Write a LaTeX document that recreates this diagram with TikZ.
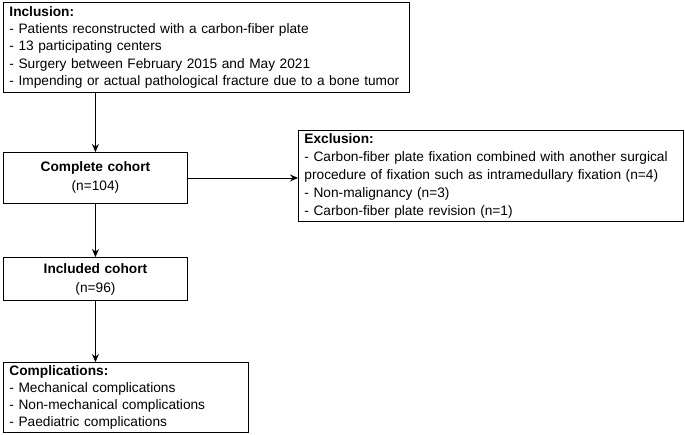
\documentclass[tikz,border=0pt]{standalone}
\usepackage{fontspec}
\setmainfont{Liberation Sans}
\usepackage{tikz}
\usetikzlibrary{positioning,arrows.meta}

\tikzset{
    box/.style={draw, line width=0.9pt, inner xsep=6pt, inner ysep=0pt,
        font=\fontsize{13.7}{17.3}\selectfont},
    listbox/.style={box, align=left, anchor=north west},
    countbox/.style={box, align=center, anchor=north west,
        text width=172pt, minimum width=184pt},
    flow/.style={-{Stealth[length=8pt,width=7pt]}, line width=0.9pt}
}

\begin{document}
\begin{tikzpicture}[x=1pt, y=1pt]
            \useasboundingbox (0,0) rectangle (685,-434);

            \node [listbox, text width=394pt, minimum height=90pt] (incl) at (3,-2)
                {\textbf{Inclusion:}\\
                 - Patients reconstructed with a carbon-fiber plate\\
                 - 13 participating centers\\
                 - Surgery between February 2015 and May 2021\\
                 - Impending or actual pathological fracture due to a bone tumor};

            \node [countbox, minimum height=51pt, font=\fontsize{13.7}{19}\selectfont] (complete) at (3,-152)
                {\textbf{Complete cohort}\\(n=104)};

            \node [listbox, text width=373pt, minimum height=91pt, font=\fontsize{13.7}{18}\selectfont] (excl) at (298,-130)
                {\textbf{Exclusion:}\\
                 - Carbon-fiber plate fixation combined with another surgical\\
                 procedure of fixation such as intramedullary fixation (n=4)\\
                 - Non-malignancy (n=3)\\
                 - Carbon-fiber plate revision (n=1)};

            \node [countbox, minimum height=43pt, font=\fontsize{13.7}{19}\selectfont] (included) at (3,-257)
                {\textbf{Included cohort}\\(n=96)};

            \node [listbox, text width=233pt, minimum height=70pt] (compl) at (3,-362)
                {\textbf{Complications:}\\
                 - Mechanical complications\\
                 - Non-mechanical complications\\
                 - Paediatric complications};

            \draw [flow] (incl.south -| complete.north) -- (complete.north);
            \draw [flow] (complete.east) -- (complete.east -| excl.west);
            \draw [flow] (complete.south) -- (included.north);
            \draw [flow] (included.south) -- (included.south |- compl.north);
        \end{tikzpicture}
\end{document}
